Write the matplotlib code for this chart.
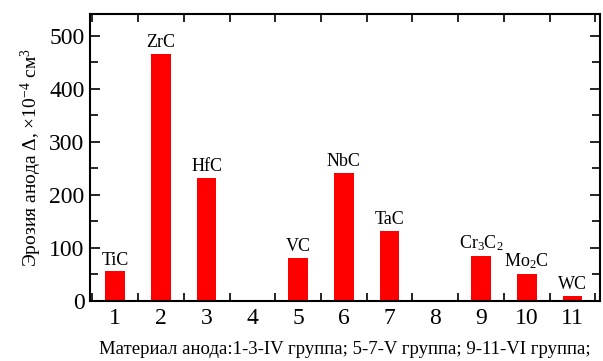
import matplotlib
matplotlib.use("Agg")
import matplotlib.pyplot as plt
import numpy as np
from matplotlib.ticker import MultipleLocator

# data
positions = [1, 2, 3, 5, 6, 7, 9, 10, 11]
values = [56, 466, 232, 81, 241, 132, 85, 51, 10]
names = ["TiC", "ZrC", "HfC", "VC", "NbC", "TaC",
         r"Cr$_3$C$_2$", r"Mo$_2$C", "WC"]
tick_labels = [str(i) for i in range(1, 12)]

plt.rcParams["font.family"] = ["Liberation Serif", "DejaVu Serif"]
plt.rcParams["mathtext.fontset"] = "custom"
plt.rcParams["mathtext.rm"] = "Liberation Serif"
plt.rcParams["mathtext.it"] = "Liberation Serif:italic"

fig = plt.figure(figsize=(6.03, 3.61), dpi=100)
ax = fig.add_axes([90 / 603, 60 / 361, 510 / 603, 287 / 361])

ax.bar(positions, values, width=0.43, color="#ff0000")
for p, v, n in zip(positions, values, names):
    ax.text(p, v + 5, n, ha="center", va="bottom", fontsize=13)

ax.set_xlim(0.45, 11.6)
ax.set_ylim(0, 541)

ax.set_xticks(range(1, 12))
ax.set_xticklabels(tick_labels)
ax.xaxis.set_minor_locator(MultipleLocator(1, offset=0.5))
ax.yaxis.set_major_locator(MultipleLocator(100))
ax.yaxis.set_minor_locator(MultipleLocator(50))
ax.tick_params(axis="x", which="major", length=0, labelsize=17, pad=5)
ax.tick_params(axis="y", which="major", labelsize=17, pad=4)
ax.tick_params(which="both", direction="in", top=True, right=True, width=1.2)
ax.tick_params(which="major", axis="y", length=7)
ax.tick_params(which="minor", length=6)
for s in ax.spines.values():
    s.set_linewidth(1.5)

ax.set_ylabel(r"Эрозия анода Δ, $\times$10$^{-4}$ см$^3$", fontsize=14, labelpad=4)
ax.set_xlabel("Материал анода:1-3-IV группа; 5-7-V группа; 9-11-VI группа;",
              fontsize=13.5, labelpad=9)

plt.savefig("out.png", dpi=100)
plt.close()
